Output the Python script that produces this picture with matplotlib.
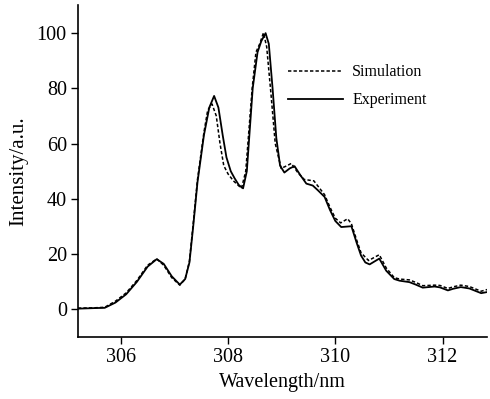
import matplotlib
matplotlib.use("Agg")
import matplotlib.pyplot as plt

# Experiment (solid)
exp_wl = [305.2, 305.5, 305.7, 305.9, 306.1, 306.3, 306.5, 306.67, 306.8, 306.95,
          307.1, 307.2, 307.28, 307.35, 307.43, 307.55, 307.65, 307.74, 307.82, 307.9,
          307.97, 308.05, 308.12, 308.2, 308.28, 308.35, 308.46, 308.55, 308.62, 308.7,
          308.76, 308.83, 308.9, 308.97, 309.05, 309.15, 309.24, 309.35, 309.46, 309.58,
          309.68, 309.8, 309.9, 310.0, 310.11, 310.3, 310.4, 310.48, 310.56, 310.64,
          310.82, 310.95, 311.1, 311.2, 311.38, 311.5, 311.63, 311.85, 311.95, 312.1,
          312.2, 312.34, 312.5, 312.72, 312.83]
exp_int = [0.3, 0.5, 0.6, 2.5, 5.5, 10, 15.5, 18.2, 16.5, 12,
           9, 11, 17, 30, 46, 63, 73, 77.2, 73, 63,
           55, 50, 47.5, 45, 43.8, 50, 80, 93, 97, 99.9,
           96, 80, 62, 52, 49.5, 51, 51.8, 48.5, 45.5, 44.8,
           43, 40.7, 36, 32, 29.8, 30.1, 24, 19.5, 17, 16.3,
           18.4, 14, 11, 10.4, 9.9, 9.0, 7.9, 8.3, 8, 6.9,
           7.5, 8.1, 7.6, 5.9, 6.3]

# Simulation (dashed)
sim_wl = [305.2, 305.5, 305.7, 305.9, 306.1, 306.3, 306.5, 306.67, 306.8, 306.95,
          307.1, 307.2, 307.28, 307.35, 307.43, 307.55, 307.62, 307.7, 307.78, 307.85,
          307.92, 308.0, 308.1, 308.25, 308.33, 308.45, 308.52, 308.59, 308.66, 308.72,
          308.8, 308.88, 308.99, 309.1, 309.18, 309.3, 309.42, 309.6, 309.7, 309.8,
          309.9, 310.0, 310.1, 310.23, 310.3, 310.4, 310.48, 310.62, 310.82, 310.95,
          311.1, 311.2, 311.38, 311.5, 311.63, 311.85, 311.95, 312.1, 312.2, 312.34,
          312.5, 312.72, 312.83]
sim_int = [0.5, 0.6, 0.8, 3, 6, 10.5, 16, 18.3, 16, 11.5,
           8.8, 11, 17.5, 31, 47, 64, 72, 74.3, 70, 60,
           52, 49, 46.5, 43.8, 50, 80, 93, 96, 100, 95,
           78, 60, 51, 52, 52.8, 49.5, 47, 46.5, 44, 41.5,
           37, 33, 31.3, 32.8, 31, 25, 20.5, 17.7, 19.8, 15,
           11.5, 11, 10.7, 9.8, 8.6, 8.8, 8.7, 7.6, 8.2, 8.8,
           8.3, 6.6, 7.2]

x_ticks = [306, 308, 310, 312]
y_ticks = [0, 20, 40, 60, 80, 100]

plt.rcParams["font.family"] = ["Liberation Serif", "DejaVu Serif"]

fig = plt.figure(figsize=(4.9, 3.99), dpi=100)
ax = fig.add_axes([0.159, 0.155, 0.835, 0.832])

ax.plot(sim_wl, sim_int, color="black", linestyle=(0, (2.2, 1.4)), linewidth=1.1, label="Simulation")
ax.plot(exp_wl, exp_int, color="black", linestyle="-", linewidth=1.3, label="Experiment")

ax.set_xlim(305.2, 312.83)
ax.set_ylim(-10, 110)
ax.set_xticks(x_ticks)
ax.set_yticks(y_ticks)
ax.tick_params(direction="out", length=5, width=1, labelsize=14.5, pad=3)
for s in ["top", "right"]:
    ax.spines[s].set_visible(False)
for s in ["left", "bottom"]:
    ax.spines[s].set_linewidth(1.2)

ax.set_xlabel("Wavelength/nm", fontsize=14.5, labelpad=4)
ax.set_ylabel("Intensity/a.u.", fontsize=15, labelpad=6)

ax.legend(loc="upper left", bbox_to_anchor=(0.559, 0.875), bbox_transform=fig.transFigure,
          frameon=False, fontsize=11.5, handlelength=3.4, handletextpad=0.6, labelspacing=0.75)

fig.savefig("out.png", dpi=100)
